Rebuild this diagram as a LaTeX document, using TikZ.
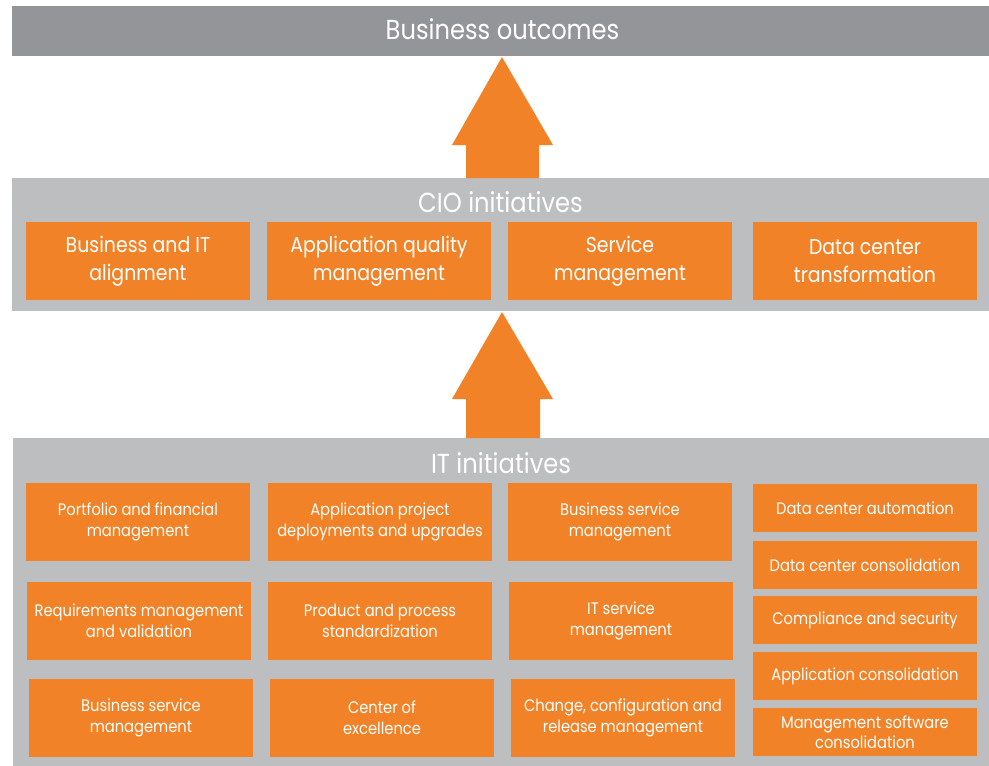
\documentclass[tikz,border=0pt]{standalone}
\usepackage{fontspec}
\setmainfont{Poppins}[FakeStretch=0.88]
\definecolor{topgray}{HTML}{939598}
\definecolor{panelgray}{HTML}{BCBEC0}
\definecolor{hporange}{HTML}{F28227}
\tikzset{
  panel/.style={fill=#1, draw=none, inner sep=0pt, outer sep=0pt},
  obox/.style={fill=hporange, draw=none, text=white, inner sep=0pt, outer sep=0pt,
    minimum width=224pt, align=center},
  ciobox/.style={obox, minimum height=78pt, font=\fontsize{21.5}{27.5}\selectfont},
  itbox/.style={obox, minimum height=78pt, font=\fontsize{16.7}{21}\selectfont},
  sidebox/.style={obox, minimum height=48pt, font=\fontsize{16.7}{20}\selectfont},
  title/.style={text=white, inner sep=0pt, font=\fontsize{27.5}{30}\selectfont},
  bigarrow/.style={fill=hporange, draw=none},
}
\begin{document}
\begin{tikzpicture}[x=1pt,y=-1pt]
\useasboundingbox (0,0) rectangle (989,766);
% panels
\node[panel=topgray, minimum width=977pt, minimum height=50pt] (top) at (500.5,31) {};
\node[panel=panelgray, minimum width=977pt, minimum height=133pt] (cio) at (500.5,244.5) {};
\node[panel=panelgray, minimum width=976pt, minimum height=328pt] (it) at (501,602) {};
% titles
\node[title, anchor=base] (toptitle) at (502.5,39) {Business outcomes};
\node[title, anchor=base] (ciotitle) at (500.5,212) {CIO initiatives};
\node[title, anchor=base] (ittitle) at (501,473) {IT initiatives};
% arrows
\fill[bigarrow] (cio.north -| 466,0) -- (466,145) -- (452,145) -- (502,57) -- (553,145) -- (539,145) -- (cio.north -| 539,0) -- cycle;
\fill[bigarrow] (it.north -| 466,0) -- (466,399) -- (452,399) -- (502,312) -- (553,399) -- (540,399) -- (it.north -| 540,0) -- cycle;
% CIO boxes
\node[ciobox] (c1) at (138,261) {Business and IT\\alignment};
\node[ciobox] (c2) at (379,261) {Application quality\\management};
\node[ciobox] (c3) at (620,261) {Service\\management};
\node[ciobox] (c4) at (865,261) {Data center\\transformation};
% IT boxes
\node[itbox] (i11) at (138,522) {Portfolio and financial\\management};
\node[itbox] (i12) at (380,522) {Application project\\deployments and upgrades};
\node[itbox] (i13) at (620,522) {Business service\\management};
\node[itbox] (i21) at (139,621) {Requirements management\\and validation};
\node[itbox] (i22) at (380,621) {Product and process\\standardization};
\node[itbox] (i23) at (621,621) {IT service\\management};
\node[itbox] (i31) at (141,718) {Business service\\management};
\node[itbox] (i32) at (382,718) {Center of\\excellence};
\node[itbox] (i33) at (623,718) {Change, configuration and\\release management};
% right column
\node[sidebox] (s1) at (865,508) {Data center automation};
\node[sidebox] (s2) at (865,565) {Data center consolidation};
\node[sidebox] (s3) at (865,620) {Compliance and security};
\node[sidebox] (s4) at (865,676) {Application consolidation};
\node[sidebox] (s5) at (865,732) {Management software\\consolidation};
\end{tikzpicture}
\end{document}
